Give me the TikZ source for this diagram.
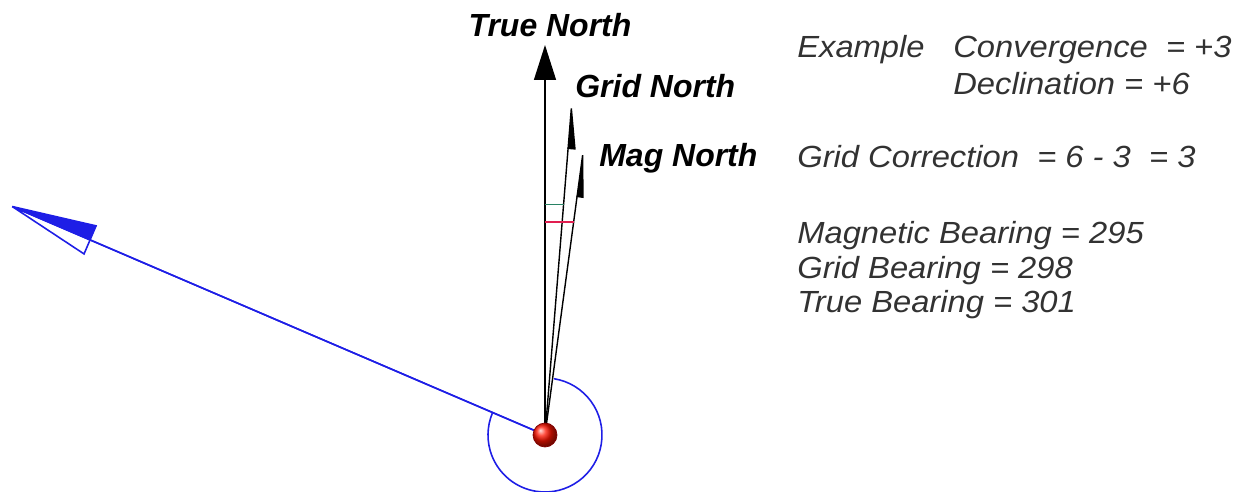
\documentclass[tikz,border=0pt]{standalone}
\usepackage{fontspec}
\newfontfamily\arialfont{Liberation Sans}
\newfontfamily\notefont[FakeStretch=1.07]{Liberation Sans}
\usetikzlibrary{arrows.meta, positioning, calc}
\definecolor{bearblue}{RGB}{30, 30, 230}
\definecolor{convgreen}{RGB}{40, 130, 100}
\definecolor{declred}{RGB}{225, 30, 80}
\definecolor{notegray}{RGB}{50, 50, 50}

\begin{document}
\begin{tikzpicture}[
        x=0.02cm, y=0.02cm,
        north/.style={draw=black, line width=0.8pt},
        bearing/.style={draw=bearblue, line width=0.9pt},
        lbl/.style={font=\arialfont\fontsize{18.2}{20}\selectfont\bfseries\itshape, inner sep=0pt, anchor=base west},
        note/.style={font=\notefont\fontsize{17.4}{20}\selectfont\itshape, text=notegray, inner sep=0pt, anchor=base west},
    ]
    \useasboundingbox (0,0) rectangle (1242,491);

    % Station and arrow ends
    \coordinate (stn) at (545,56);
    \coordinate (tn) at (545,446);
    \coordinate (gn) at (572,391);
    \coordinate (mn) at (584,346);
    \coordinate (bt) at (4,288);

    % Bearing circle
    \draw[bearing] ($(stn)+(81:57)$) arc[start angle=81, end angle=-202.5, radius=57];

    % Bearing arrow
    \draw[bearing, -{Triangle[right, length=1.8cm, width=0.64cm]}] (stn) -- (bt);
    \draw[bearing, -{Triangle[open, left, length=1.8cm, width=0.64cm]}] (stn) -- (bt);

    % North arrows
    \draw[north, -{Triangle[length=0.7cm, width=0.44cm]}] (stn) -- (tn);
    \draw[north, -{Triangle[right, length=0.9cm, width=0.3cm]}] (stn) -- (gn);
    \draw[north, -{Triangle[right, length=0.95cm, width=0.26cm]}] (stn) -- (mn);

    % Convergence and declination marks
    \coordinate (gc) at ($(stn)!0.687!(gn)$);
    \coordinate (mc) at ($(stn)!0.734!(mn)$);
    \draw[convgreen, line width=0.6pt] (gc) -- (gc -| stn);
    \draw[declred, line width=0.8pt] (mc) -- (mc -| stn);

    % Station
    \node[circle, inner sep=0pt, minimum size=0.48cm, shading=ball, ball color=red!85!orange, draw=red!50!black, line width=0.4pt] (ball) at (stn) {};

    % Labels
    \node[lbl, anchor=base] (tnl) at (550,454) {True North};
    \node[lbl] (gnl) at (575,393) {Grid North};
    \node[lbl] (mnl) at (599,324) {Mag North};

    % Notes
    \node[note] (ex) at (797,433) {Example};
    \node[note] (conv) at (953,433) {Convergence \ = +3};
    \node[note] (decl) at (953,396) {Declination = +6};
    \node[note] (corr) at (797,323) {Grid Correction \ = 6 - 3 \ = 3};
    \node[note] (mb) at (797,248) {Magnetic Bearing = 295};
    \node[note] (gb) at (797,213) {Grid Bearing = 298};
    \node[note] (tb) at (797,178) {True Bearing = 301};

\end{tikzpicture}
\end{document}
